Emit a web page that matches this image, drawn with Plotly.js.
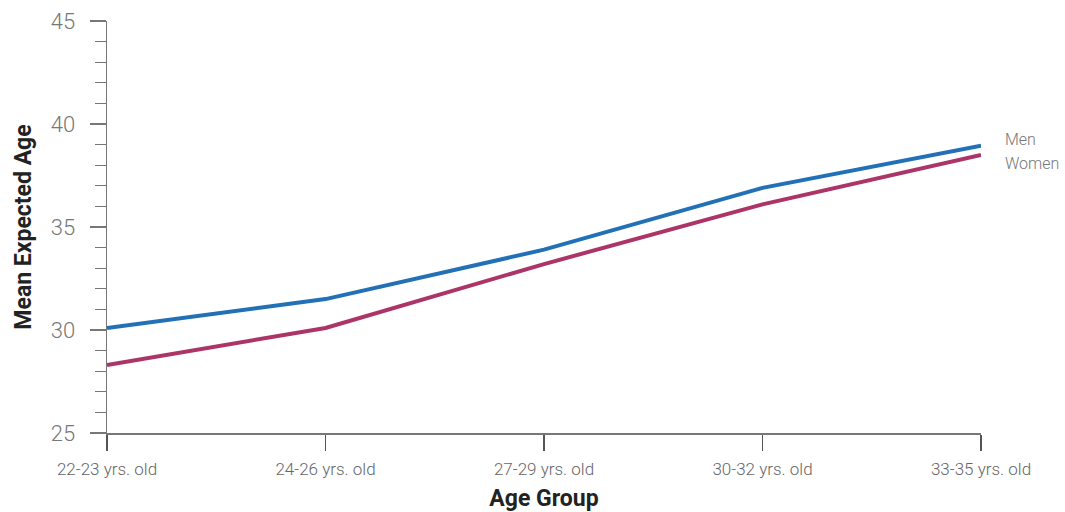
<!DOCTYPE html>
<html>
<head>
<meta charset="utf-8">
<script src="https://cdn.plot.ly/plotly-3.0.1.min.js"></script>
<style>html,body{margin:0;padding:0;background:#fff;}#chart{width:1065px;height:512px;}</style>
</head>
<body>
<div id="chart"></div>
<script>
const categories = ["22-23 yrs. old", "24-26 yrs. old", "27-29 yrs. old", "30-32 yrs. old", "33-35 yrs. old"];
const men = [30.1, 31.5, 33.9, 36.9, 38.95];
const women = [28.3, 30.1, 33.2, 36.1, 38.5];
const seriesNames = ["Men", "Women"];
const yTicks = [25, 30, 35, 40, 45];

const traces = [
  {x: categories, y: men, name: seriesNames[0], mode: "lines", line: {color: "#2270b6", width: 4}},
  {x: categories, y: women, name: seriesNames[1], mode: "lines", line: {color: "#ac3466", width: 4}}
];

const layout = {
  width: 1065, height: 512,
  margin: {l: 107, r: 84, t: 21, b: 79},
  paper_bgcolor: "#fff", plot_bgcolor: "#fff",
  showlegend: false,
  font: {family: "Roboto, sans-serif", color: "#666"},
  xaxis: {
    type: "category", range: [0, 4], showgrid: false, zeroline: false,
    showline: true, linecolor: "#777", linewidth: 1.5,
    ticks: "outside", ticklen: 16, tickcolor: "#555", tickwidth: 1.5,
    tickfont: {size: 17, color: "#666", weight: 300}, ticklabelstandoff: 4,
    title: {text: "Age Group", font: {size: 23, color: "#222", family: "Roboto, sans-serif", weight: "bold"}, standoff: 15},
    fixedrange: true
  },
  yaxis: {
    range: [25, 45], tickvals: yTicks, showgrid: false, zeroline: false,
    showline: true, linecolor: "#777", linewidth: 1.5,
    ticks: "outside", ticklen: 16, tickcolor: "#777", tickwidth: 1.5,
    minor: {dtick: 1, ticks: "outside", ticklen: 11, tickcolor: "#777", tickwidth: 1.2, showgrid: false},
    tickfont: {size: 22, color: "#777", weight: 300}, ticklabelstandoff: 10,
    title: {text: "Mean Expected Age", font: {size: 23, color: "#222", family: "Roboto, sans-serif", weight: "bold"}, standoff: 12},
    fixedrange: true
  },
  annotations: [
    {xref: "paper", x: 1, xanchor: "left", xshift: 22, y: 39.25, yref: "y", text: seriesNames[0], showarrow: false, font: {size: 16, color: "#777", weight: 300}},
    {xref: "paper", x: 1, xanchor: "left", xshift: 22, y: 38.1, yref: "y", text: seriesNames[1], showarrow: false, font: {size: 16, color: "#777", weight: 300}}
  ]
};

Plotly.newPlot("chart", traces, layout, {displayModeBar: false, staticPlot: true});
</script>
</body>
</html>
